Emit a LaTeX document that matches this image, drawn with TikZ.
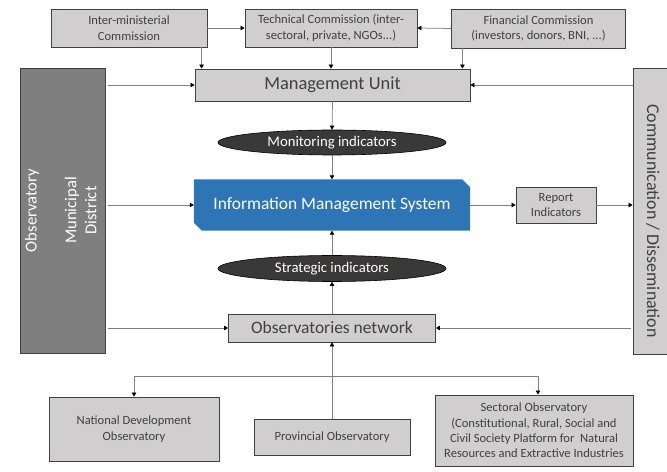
\documentclass[tikz,border=0pt]{standalone}
\usepackage{fontspec}
\usepackage{graphicx}
\setmainfont{Carlito}
\usetikzlibrary{arrows.meta,shapes.geometric,backgrounds}
\definecolor{boxgray}{HTML}{D0CECE}
\definecolor{obsgray}{HTML}{7F7F7F}
\definecolor{ovalgray}{HTML}{3B3838}
\definecolor{imsblue}{HTML}{2E75B6}
\definecolor{linegray}{HTML}{808080}
\definecolor{txtgray}{HTML}{404040}
\begin{document}
\begin{tikzpicture}[x=1bp,y=-1bp,
  box/.style={draw=txtgray,line width=0.8bp,fill=boxgray,text=txtgray,inner sep=0pt,
    align=center,font=\fontsize{12.6}{15.5}\selectfont},
  bigbox/.style={box,font=\fontsize{18.5}{22}\selectfont},
  oval/.style={ellipse,draw=black,line width=0.6bp,fill=ovalgray,text=white,inner sep=0pt,
    minimum width=228bp,minimum height=25bp,font=\fontsize{14.8}{18}\selectfont},
  arr/.style={draw=linegray,line width=0.75bp,-{Triangle[length=4bp,width=4.5bp,color=black]}}]
\useasboundingbox (0,0) rectangle (667,472);

% top row
\node[box,minimum width=156bp,minimum height=38bp] (inter) at (129,28) {Inter-ministerial\\Commission};
\node[box,minimum width=172bp,minimum height=38bp] (tech) at (331,28) {Technical Commission (inter-\\sectoral, private, NGOs...)};
\node[box,minimum width=174bp,minimum height=39bp] (fin) at (538.5,28.5) {Financial Commission\\(investors, donors, BNI, ...)};

\node[bigbox,minimum width=275bp,minimum height=32bp] (mu) at (332.5,85) {Management Unit};

% side columns
\node[draw=txtgray,line width=0.8bp,fill=obsgray,text=white,inner sep=0pt,
  minimum width=85bp,minimum height=285bp,font=\fontsize{16.7}{20}\selectfont] (obs) at (62.5,210.5)
  {\rotatebox{90}{\begin{tabular}{@{}c@{}}Observatory\\ \\Municipal\\District\end{tabular}}};
\node[box,minimum width=40bp,minimum height=286bp,font=\fontsize{18}{22}\selectfont] (comm) at (653,211)
  {\rotatebox{-90}{\hspace{20bp}Communication / Dissemination}};

% centre column
\node[oval] (mon) at (332,142.5) {Monitoring indicators};
\node[text=white,inner sep=0pt,minimum width=276bp,minimum height=51bp,
  font=\fontsize{17.5}{21}\selectfont] (ims) at (332,205) {Information Management System};
\begin{scope}[on background layer]
\fill[imsblue] (ims.north west) -- ([xshift=-8bp]ims.north east) -- ([yshift=-8bp]ims.north east)
  -- (ims.south east) -- ([xshift=8bp]ims.south west) -- ([yshift=8bp]ims.south west) -- cycle;
\end{scope}
\node[box,minimum width=80bp,minimum height=36bp] (rep) at (556,205) {Report\\Indicators};
\node[oval,minimum height=26bp] (strat) at (332,268.5) {Strategic indicators};
\node[bigbox,minimum width=207bp,minimum height=28bp,font=\fontsize{17.5}{21}\selectfont] (obsnet) at (332,328) {Observatories network};

% bottom row
\node[box,minimum width=170bp,minimum height=64bp] (nat) at (134,429) {National Development\\Observatory};
\node[box,minimum width=156bp,minimum height=36bp] (prov) at (332,437) {Provincial Observatory};
\node[box,minimum width=198bp,minimum height=71bp] (sect) at (534,430.5)
  {Sectoral Observatory\\(Constitutional, Rural, Social and\\Civil Society Platform for~ Natural\\Resources and Extractive Industries};

% connectors
\draw[arr] (inter.east) -- (tech.west);
\draw[arr] (fin.west) -- (tech.east);
\draw[arr] ([xshift=7bp]mu.north west |- inter.south) -- ([xshift=7bp]mu.north west);
\draw[arr] (tech.south) -- (tech.south |- mu.north);
\draw[arr] ([xshift=-8bp]mu.north east |- fin.south) -- ([xshift=-8bp]mu.north east);
\draw[arr,shorten <=3bp] (obs.east |- mu.west) -- (mu.west);
\draw[arr] (comm.west |- mu.east) -- (mu.east);
\draw[arr] (mu.south) -- (mon.north);
\draw[arr] (mon.south) -- (ims.north);
\draw[arr,shorten <=3bp] (obs.east |- ims.west) -- (ims.west);
\draw[arr] (ims.east) -- (rep.west);
\draw[arr] (rep.east) -- (rep.east -| comm.west);
\draw[arr] (strat.north) -- (ims.south);
\draw[arr] (obsnet.north) -- (strat.south);
\draw[arr,shorten <=3bp] (obs.east |- obsnet.west) -- (obsnet.west);
\draw[arr,shorten <=2bp] (comm.west |- obsnet.east) -- (obsnet.east);
\draw[arr,{Triangle[length=4bp,width=4.5bp,color=black]}-] (obsnet.south) -- (obsnet.south |- prov.north);
\coordinate (split) at (obsnet.south |- 0,376);
\draw[arr] (split) -| (nat.north);
\draw[arr] (split) -| ([xshift=4bp]sect.north);
\end{tikzpicture}
\end{document}
